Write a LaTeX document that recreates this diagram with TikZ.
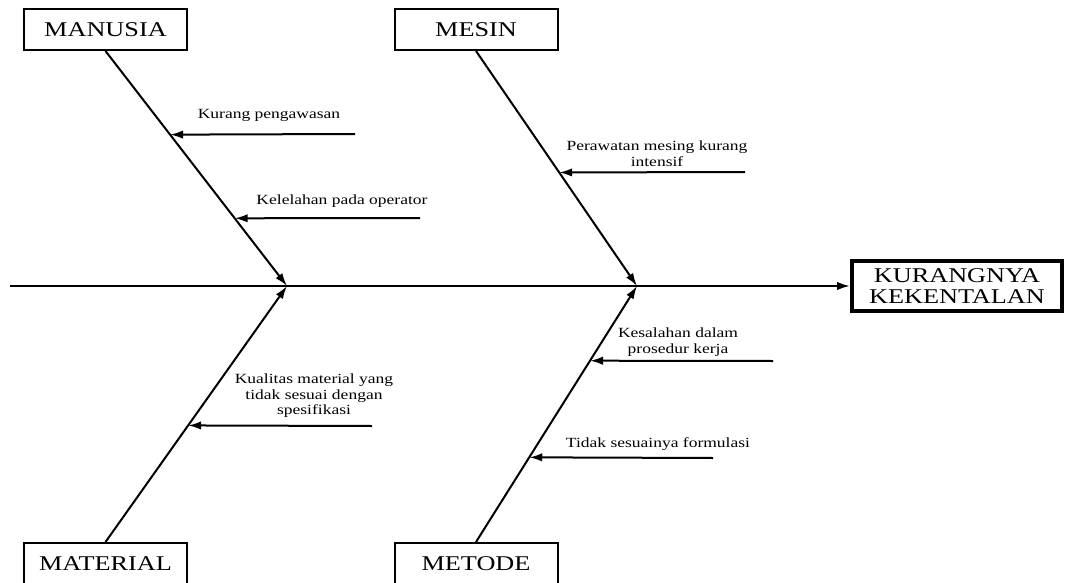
\documentclass[tikz,border=0pt]{standalone}
\usepackage{fontspec}
\setmainfont{Liberation Serif}[FakeStretch=1.25]
\usetikzlibrary{arrows.meta,positioning,calc}

\begin{document}
\begin{tikzpicture}[x=0.5pt, y=-0.5pt, line width=1pt, >={Latex[length=6.5pt,width=4.2pt]}]
  % Styles
  \tikzstyle{category} = [draw, rectangle, line width=1pt, minimum width=81.5pt, minimum height=20.5pt, inner sep=2pt, font=\fontsize{10.5}{12}\selectfont]
  \tikzstyle{effect} = [draw, rectangle, line width=2pt, minimum width=105pt, minimum height=25pt, inner sep=1pt, align=center, font=\fontsize{10.5}{10.5}\selectfont]
  \tikzstyle{cause} = [align=center, inner sep=0pt, font=\fontsize{7}{7.8}\selectfont]
  \useasboundingbox (0,0) rectangle (1065,583);

  % Nodes
  \node [category] (manusia) at (105.5,29.5) {MANUSIA};
  \node [category] (mesin) at (476,29.5) {MESIN};
  \node [category] (material) at (105.5,563.5) {MATERIAL};
  \node [category] (metode) at (476,563.5) {METODE};
  \node [effect] (effect) at (957,286) {KURANGNYA\\KEKENTALAN};
  \coordinate (tail) at (10,286);
  \coordinate (j1) at (287,286);
  \coordinate (j2) at (637,286);

  \node [cause] (c1) at (269,115) {Kurang pengawasan};
  \node [cause] (c2) at (342,201) {Kelelahan pada operator};
  \node [cause] (c3) at (657,154) {Perawatan mesing kurang\\intensif};
  \node [cause] (c4) at (314,396) {Kualitas material yang\\tidak sesuai dengan\\spesifikasi};
  \node [cause] (c5) at (678,342) {Kesalahan dalam\\prosedur kerja};
  \node [cause] (c6) at (658,444) {Tidak sesuainya formulasi};
  \coordinate (c1e) at (355,134);
  \coordinate (c2e) at (420,218);
  \coordinate (c3e) at (745,172);
  \coordinate (c4e) at (372,426);
  \coordinate (c5e) at (773,361);
  \coordinate (c6e) at (713,458);

  % Connections
  \draw [->] (tail) -- (effect.west);
  \draw [->] (manusia.south) -- coordinate[pos=0.3559] (b1) coordinate[pos=0.7119] (b2) (j1);
  \draw [->] (mesin.south) -- coordinate[pos=0.5169] (b3) (j2);
  \draw [->] (material.north) -- coordinate[pos=0.4553] (b4) (j1);
  \draw [->] (metode.north) -- coordinate[pos=0.7082] (b5) coordinate[pos=0.3307] (b6) (j2);
  \draw [->] (c1e) -- (b1);
  \draw [->] (c2e) -- (b2);
  \draw [->] (c3e) -- (b3);
  \draw [->] (c4e) -- (b4);
  \draw [->] (c5e) -- (b5);
  \draw [->] (c6e) -- (b6);

\end{tikzpicture}
\end{document}
